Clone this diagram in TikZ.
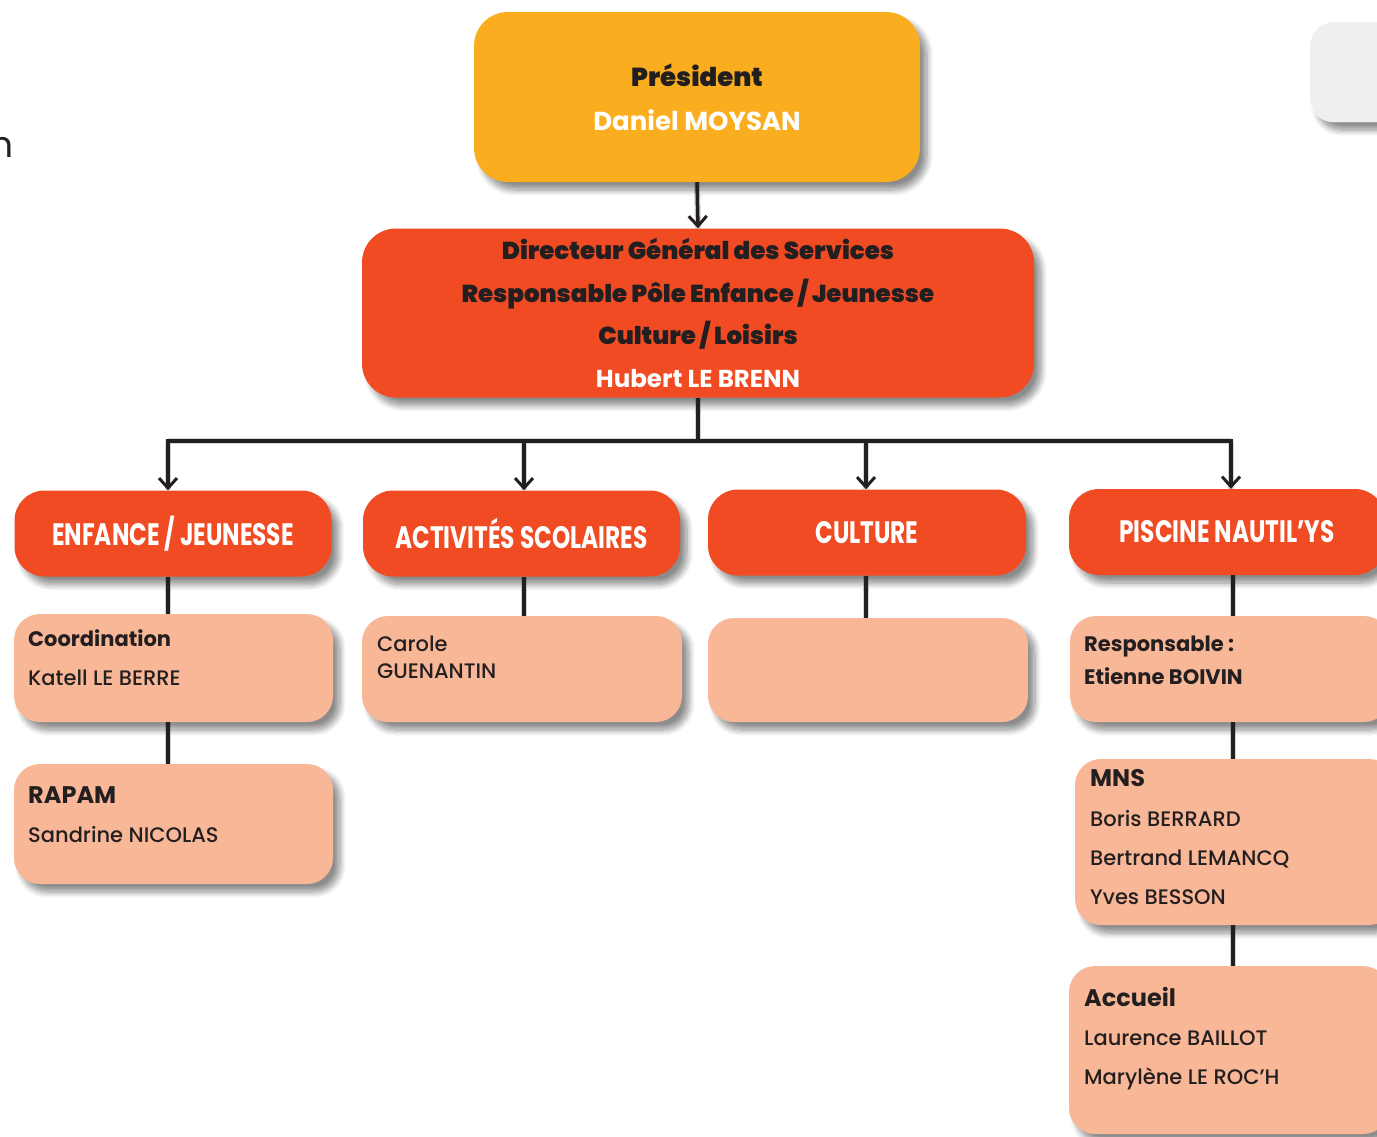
\documentclass[tikz,border=0pt]{standalone}
\usepackage{fontspec}
\setmainfont{Poppins}
\newfontfamily\medfont{Poppins Medium}
\newfontfamily\heavyfont{Poppins Black}
\usetikzlibrary{arrows.meta,shadows.blur,backgrounds}
\definecolor{presorange}{HTML}{FAAE1F}
\definecolor{polered}{HTML}{F04B23}
\definecolor{peach}{HTML}{F8B797}
\definecolor{ink}{HTML}{231F20}
\definecolor{paleside}{HTML}{EFEFEF}

\tikzset{
  box/.style={rounded corners=#1pt, inner sep=0pt,
    blur shadow={shadow xshift=7pt, shadow yshift=-8pt,
      shadow blur radius=6pt, shadow blur steps=10, shadow opacity=45}},
  toplevel/.style={box=34, fill=presorange},
  polebox/.style={box=34, fill=polered},
  unitbox/.style={box=30, fill=polered, minimum width=317pt, minimum height=86pt,
    text=white, font=\fontsize{31}{36}\selectfont\bfseries},
  staffbox/.style={box=26, fill=peach, minimum width=320pt},
  label/.style={anchor=base west, inner sep=0pt, text=ink},
  namefont/.style={label, font=\fontsize{21}{25}\selectfont\medfont},
  headfont/.style={label, font=\fontsize{21}{25}\selectfont\bfseries},
  bighead/.style={label, font=\fontsize{24}{28}\selectfont\bfseries},
  conn/.style={draw=ink, line width=3.5pt},
  arrow/.style={conn, -{Straight Barb[length=10pt,width=18pt,line width=3pt]}},
  connshadow/.style={draw=black!16, line width=6pt}
}
\newcommand{\cond}[1]{\raisebox{-3pt}{\scalebox{0.75}[1]{#1}}}

\begin{document}
\begin{tikzpicture}[x=1pt,y=-1pt]
\useasboundingbox (0,0) rectangle (1377,1136);

% stray letter at the left edge and the neighbouring panel at the top right
\node[anchor=base east, inner sep=0pt, text=ink, font=\fontsize{36}{40}\selectfont] (edge) at (14,157) {n};
\node[box=24, fill=paleside, draw=yellow!8, minimum width=100pt, minimum height=100pt] (side) at (1360,72) {};

% president and general director
\node[toplevel, minimum width=446pt, minimum height=170pt, align=center,
      font=\fontsize{26}{44}\selectfont] (pres) at (697,97)
  {\textcolor{ink}{\heavyfont Président}\\\textcolor{white}{\bfseries Daniel MOYSAN}};
\node[polebox, minimum width=672pt, minimum height=169pt, align=center,
      font=\fontsize{24.5}{42.5}\selectfont] (dgs) at (698,313)
  {\textcolor{ink}{\heavyfont Directeur Général des Services}\\
   \textcolor{ink}{\heavyfont Responsable Pôle Enfance / Jeunesse}\\
   \textcolor{ink}{\heavyfont Culture / Loisirs}\\
   \textcolor{white}{\bfseries Hubert LE BRENN}};

% services
\node[unitbox] (enf) at (173,533.5) {\cond{ENFANCE / JEUNESSE}};
\node[unitbox] (act) at (521.5,533.5) {\cond{ACTIVITÉS SCOLAIRES}};
\node[unitbox, minimum width=318pt] (cul) at (867,532.5) {\cond{CULTURE}};
\node[unitbox, minimum width=316pt] (pis) at (1227,532) {\cond{PISCINE NAUTIL’YS}};

% staff boxes
\node[staffbox, minimum width=319pt, minimum height=108pt] (coord) at (173.5,668) {};
\node[staffbox, minimum height=106pt] (carole) at (522,669) {};
\node[staffbox, minimum height=104pt] (culb) at (868,670) {};
\node[staffbox, minimum height=106pt] (resp) at (1230,669) {};
\node[staffbox, minimum width=319pt, minimum height=120pt] (rapam) at (173.5,824) {};
\node[staffbox, minimum height=166pt] (mns) at (1235,842) {};
\node[staffbox, minimum height=168pt] (acc) at (1229,1050) {};

% staff texts
\node[headfont] (t-coord) at (28,646) {Coordination};
\node[namefont] (t-katell) at (28,685) {Katell LE BERRE};
\node[namefont] (t-carole) at (377,651) {Carole};
\node[namefont] (t-guen) at (377,678) {GUENANTIN};
\node[headfont] (t-resp) at (1084,651) {Responsable :};
\node[headfont] (t-boivin) at (1084,684) {Etienne BOIVIN};
\node[bighead] (t-rapam) at (28,803) {RAPAM};
\node[namefont] (t-nicolas) at (28,842) {Sandrine NICOLAS};
\node[bighead] (t-mns) at (1090,786) {MNS};
\node[namefont] (t-boris) at (1090,826) {Boris BERRARD};
\node[namefont] (t-bertrand) at (1090,865) {Bertrand LEMANCQ};
\node[namefont] (t-yves) at (1090,904) {Yves BESSON};
\node[bighead] (t-acc) at (1084,1006) {Accueil};
\node[namefont] (t-laurence) at (1084,1045) {Laurence BAILLOT};
\node[namefont] (t-marylene) at (1084,1084) {Marylène LE ROC’H};

% branch points on the distribution bus
\coordinate (bus) at (698,441);
\coordinate (a1) at (168,441);
\coordinate (a2) at (524,441);
\coordinate (a3) at (866,441);
\coordinate (a4) at (1231,441);

% soft shadows under the connectors
\begin{scope}[on background layer, transform canvas={xshift=9pt,yshift=-7pt}]
  \draw[connshadow] (pres.south) -- (dgs.north);
  \draw[connshadow] (dgs.south) -- (bus);
  \draw[connshadow] (a1) -- (a4);
  \foreach \a/\b in {a1/enf,a2/act,a3/cul,a4/pis} \draw[connshadow] (\a) -- (\a |- \b.north);
  \draw[connshadow] (a1 |- enf.south) -- (a1 |- coord.north);
  \draw[connshadow] (a1 |- coord.south) -- (a1 |- rapam.north);
  \draw[connshadow] (a2 |- act.south) -- (a2 |- carole.north);
  \draw[connshadow] (a3 |- cul.south) -- (a3 |- culb.north);
  \draw[connshadow] (1233,575) -- (1233,616);
  \draw[connshadow] (1233,722) -- (1233,759);
  \draw[connshadow] (1233,925) -- (1233,966);
\end{scope}

% connectors
\draw[arrow] (pres.south) -- (dgs.north);
\draw[conn] (dgs.south) -- (bus);
\draw[conn, line cap=rect] (a1) -- (a4);
\draw[arrow] (a1) -- (a1 |- enf.north);
\draw[arrow] (a2) -- (a2 |- act.north);
\draw[arrow] (a3) -- (a3 |- cul.north);
\draw[arrow] (a4) -- (a4 |- pis.north);

\draw[conn] (a1 |- enf.south) -- (a1 |- coord.north);
\draw[conn] (a1 |- coord.south) -- (a1 |- rapam.north);
\draw[conn] (a2 |- act.south) -- (a2 |- carole.north);
\draw[conn] (a3 |- cul.south) -- (a3 |- culb.north);
\coordinate (p1) at (1233,575);
\draw[conn] (p1 |- pis.south) -- (p1 |- resp.north);
\draw[conn] (p1 |- resp.south) -- (p1 |- mns.north);
\draw[conn] (p1 |- mns.south) -- (p1 |- acc.north);
\end{tikzpicture}
\end{document}
